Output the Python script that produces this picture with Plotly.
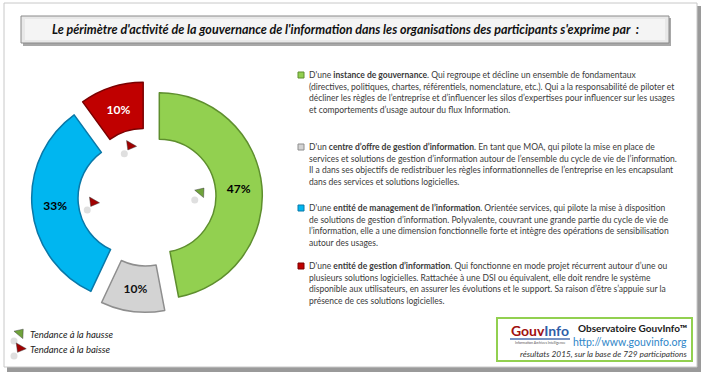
import math
import plotly.graph_objects as go

W, H = 704, 374

# ---------------- data ----------------
labels = ["instance de gouvernance",
          "centre d’offre de gestion d’information",
          "entité de management de l’information",
          "entité de gestion d’information"]
values = [47, 10, 33, 10]
trend = ["hausse", None, "baisse", "baisse"]

title_text = "Le périmètre d'activité de la gouvernance de l'information dans les organisations des participants s'exprime par  :"

desc_lines = [
    ["D'une <b>instance de gouvernance</b>. Qui regroupe et décline un ensemble de fondamentaux",
     "(directives, politiques, chartes, référentiels, nomenclature, etc.). Qui a la responsabilité de piloter et",
     "décliner les règles de l’entreprise et d’influencer les silos d’expertises pour influencer sur les usages",
     "et comportements d’usage autour du flux Information."],
    ["D'un <b>centre d’offre de gestion d’information</b>. En tant que MOA, qui pilote la mise en place de",
     "services et solutions de gestion d’information autour de l’ensemble du cycle de vie de l’information.",
     "Il a dans ses objectifs de redistribuer les règles informationnelles de l’entreprise en les encapsulant",
     "dans des services et solutions logicielles."],
    ["D'une <b>entité de management de l’information</b>. Orientée services, qui pilote la mise à disposition",
     "de solutions de gestion d’information. Polyvalente, couvrant une grande partie du cycle de vie de",
     "l’information, elle a une dimension fonctionnelle forte et intègre des opérations de sensibilisation",
     "autour des usages."],
    ["D'une <b>entité de gestion d’information</b>. Qui fonctionne en mode projet récurrent autour d’une ou",
     "plusieurs solutions logicielles. Rattachée à une DSI ou équivalent, elle doit rendre le système",
     "disponible aux utilisateurs, en assurer les évolutions et le support. Sa raison d’être s’appuie sur la",
     "présence de ces solutions logicielles."],
]
legend_labels = ["Tendance à la hausse", "Tendance à la baisse"]
source_title = "Observatoire GouvInfo™"
source_url = "http://www.gouvinfo.org"
source_note = "résultats 2015, sur la base de 729 participations"

# ---------------- style ----------------
colors = ["#92D050", "#D3D3D3", "#00B6F0", "#C00000"]
edge_colors = ["#5E8E2E", "#8E8E8E", "#0A78A8", "#7A0000"]
text_colors = ["#000000", "#111111", "#000000", "#FFFFFF"]
trend_colors = {"hausse": "#6FA33A", "baisse": "#A00000"}
body_font = "Lato, sans-serif"
txt_color = "#3A3A3A"

cx, cy = 147, 197       # pie centre (px from top-left)
R = 103                 # ring outer radius in px
pull = 0.12
domR = R * (1 + pull)

fig = go.Figure()

fig.add_trace(go.Pie(
    labels=labels, values=values, sort=False, direction="clockwise", rotation=0,
    hole=0.55, pull=[pull] * len(values),
    marker=dict(colors=colors, line=dict(color=edge_colors, width=1.5)),
    texttemplate="<b>%{percent:.0%}</b>", textposition="inside",
    insidetextorientation="horizontal",
    textfont=dict(color=text_colors, size=12, family="Lato, sans-serif"),
    showlegend=False, hoverinfo="label+percent",
    domain=dict(x=[(cx - domR) / W, (cx + domR) / W],
                y=[(H - cy - domR) / H, (H - cy + domR) / H]),
))

# trend arrows inside the hole, at each slice's mid-angle
total = sum(values)
cum = 0
ax_x, ax_y, ax_c, ax_s, ax_a = [], [], [], [], []
r_arrow = 54
for v, t in zip(values, trend):
    mid = 2 * math.pi * (cum + v / 2) / total
    cum += v
    if t is None:
        continue
    ax_x.append(cx + r_arrow * math.sin(mid))
    ax_y.append(cy - r_arrow * math.cos(mid))
    ax_c.append(trend_colors[t])
    ax_s.append("triangle-up" if t == "hausse" else "triangle-down")
    ax_a.append(40 if t == "hausse" else 30)

# legend arrows
leg_x = [20, 20]
leg_y = [333, 348]
ax_x += leg_x
ax_y += leg_y
ax_c += [trend_colors["hausse"], trend_colors["baisse"]]
ax_s += ["triangle-up", "triangle-down"]
ax_a += [40, 30]

# small shadows under arrows
fig.add_trace(go.Scatter(
    x=[x - 6 for x in ax_x], y=[y + 8 for y in ax_y], mode="markers",
    marker=dict(symbol="circle", size=7, color="rgba(150,150,150,0.3)", line=dict(width=0)),
    xaxis="x2", yaxis="y2", showlegend=False, hoverinfo="skip"))
fig.add_trace(go.Scatter(
    x=ax_x, y=ax_y, mode="markers",
    marker=dict(symbol=ax_s, size=10, color=ax_c, angle=ax_a,
                line=dict(width=0.8, color="rgba(60,60,60,0.6)")),
    xaxis="x2", yaxis="y2", showlegend=False, hoverinfo="skip"))

shapes = []
# outer frame + shadow
shapes.append(dict(type="rect", xref="x2", yref="y2", x0=7, y0=6, x1=701, y1=372,
                   fillcolor="#9A9A9A", line=dict(width=0), layer="below"))
shapes.append(dict(type="rect", xref="x2", yref="y2", x0=4, y0=3, x1=697, y1=367,
                   fillcolor="#FFFFFF", line=dict(color="#C8C8C8", width=1), layer="below"))
# title box with shadow
shapes.append(dict(type="rect", xref="x2", yref="y2", x0=23, y0=18, x1=671, y1=46,
                   fillcolor="#A8A8A8", line=dict(width=0), layer="below"))
shapes.append(dict(type="rect", xref="x2", yref="y2", x0=21, y0=16, x1=669, y1=43,
                   fillcolor="#E8E8E8", line=dict(color="#8A8A8A", width=1), layer="below"))
shapes.append(dict(type="rect", xref="x2", yref="y2", x0=25, y0=19, x1=665, y1=40,
                   fillcolor="#F4F4F4", line=dict(width=0), layer="below"))
# source box
shapes.append(dict(type="rect", xref="x2", yref="y2", x0=497, y0=318, x1=692, y1=361,
                   fillcolor="#FFFFFF", line=dict(color="#92D050", width=2), layer="below"))
# logo underline
shapes.append(dict(type="line", xref="x2", yref="y2", x0=510, y0=339, x1=570, y1=339,
                   line=dict(color="#4A6FB0", width=1.5)))

annotations = []
annotations.append(dict(x=345, y=29, xref="x2", yref="y2", text="<b><i>" + title_text + "</i></b>",
                        showarrow=False, xanchor="center", yanchor="middle",
                        font=dict(family="Lato, sans-serif", size=12.5, color="#111111")))

block_tops = [75, 147, 208, 266]
line_h = 11.6
for bi, (lines, top) in enumerate(zip(desc_lines, block_tops)):
    shapes.append(dict(type="rect", xref="x2", yref="y2", x0=298, y0=top - 3, x1=304, y1=top + 3,
                       fillcolor=colors[bi], line=dict(color=edge_colors[bi], width=1)))
    for li, ln in enumerate(lines):
        annotations.append(dict(x=307, y=top + li * line_h, xref="x2", yref="y2", text=ln,
                                showarrow=False, xanchor="left", yanchor="middle", align="left",
                                font=dict(family=body_font, size=8.5, color=txt_color)))

for lab, ly in zip(legend_labels, leg_y):
    annotations.append(dict(x=28, y=ly + 1, xref="x2", yref="y2", text="<i>" + lab + "</i>",
                            showarrow=False, xanchor="left", yanchor="middle",
                            font=dict(family="Lato, sans-serif", size=9.5, color="#222222")))

# source box texts
annotations.append(dict(x=540, y=330, xref="x2", yref="y2",
                        text="<b><span style='color:#A01010'>Gouv</span><span style='color:#2E5DA8'>Info</span></b>",
                        showarrow=False, xanchor="center", yanchor="middle",
                        font=dict(family="Lato, sans-serif", size=14)))
annotations.append(dict(x=540, y=343, xref="x2", yref="y2",
                        text="Information Archives Intelligence",
                        showarrow=False, xanchor="center", yanchor="middle",
                        font=dict(family="Lato, sans-serif", size=3.5, color="#555555")))
annotations.append(dict(x=689, y=328, xref="x2", yref="y2", text="<b>" + source_title + "</b>",
                        showarrow=False, xanchor="right", yanchor="middle",
                        font=dict(family="Lato, sans-serif", size=10, color="#1A1A1A")))
annotations.append(dict(x=689, y=342, xref="x2", yref="y2", text=source_url,
                        showarrow=False, xanchor="right", yanchor="middle",
                        font=dict(family="Lato, sans-serif", size=10.5, color="#2F86C8")))
annotations.append(dict(x=689, y=354, xref="x2", yref="y2", text="<i>" + source_note + "</i>",
                        showarrow=False, xanchor="right", yanchor="middle",
                        font=dict(family="Lato, sans-serif", size=8.3, color="#333333")))

fig.update_layout(
    width=W, height=H, margin=dict(l=0, r=0, t=0, b=0),
    paper_bgcolor="#FFFFFF", plot_bgcolor="rgba(0,0,0,0)",
    xaxis2=dict(range=[0, W], domain=[0, 1], visible=False, fixedrange=True),
    yaxis2=dict(range=[H, 0], domain=[0, 1], visible=False, fixedrange=True, anchor="x2"),
    shapes=shapes, annotations=annotations,
)

fig.write_html("out.html", config={"displayModeBar": False},
               post_script="document.body.style.margin='0';document.body.style.padding='0';")
